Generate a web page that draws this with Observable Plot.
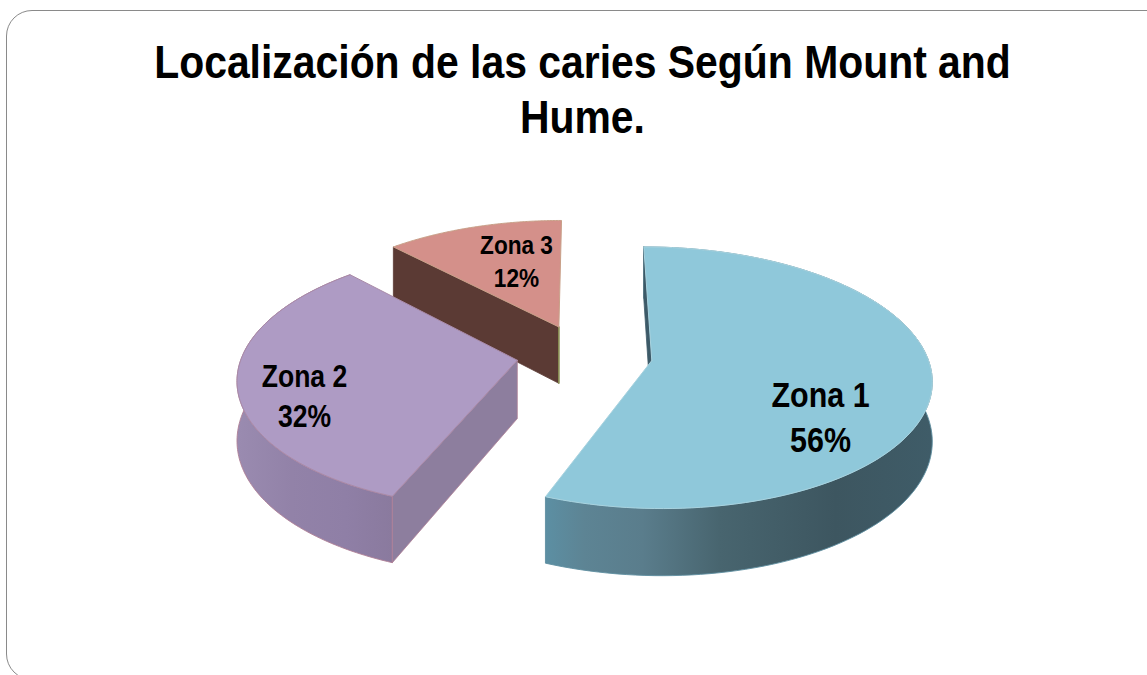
<!DOCTYPE html>
<html lang="es">
<head>
<meta charset="utf-8">
<title>Localización de las caries</title>
<script src="https://cdn.jsdelivr.net/npm/d3@7"></script>
<script src="https://cdn.jsdelivr.net/npm/@observablehq/plot@0.6"></script>
<style>
html,body{margin:0;padding:0;background:#fff;width:1147px;height:675px;overflow:hidden}
#card{position:absolute;left:6px;top:9.5px;width:1300px;height:670px;border:1.8px solid #8a8a8a;border-radius:26px;box-sizing:border-box}
#title{position:absolute;left:0;top:34px;width:1165px;text-align:center;font:bold 47px/55px "Liberation Sans",sans-serif;color:#000;transform:scaleX(0.87);transform-origin:582.5px 0}
#chart{position:absolute;left:0;top:0}
svg{overflow:hidden}
</style>
</head>
<body>
<div id="card"></div>
<div id="chart"></div>
<div id="title">Localización de las caries Según Mount and<br>Hume.</div>
<script>
// ---- data ----
const zonas = ["Zona 1", "Zona 2", "Zona 3"];
const valores = [56, 32, 12];
const etiquetas = ["Zona 1\n56%", "Zona 2\n32%", "Zona 3\n12%"];
const colorTapa = ["#8fc8da", "#ae9bc4", "#d4908a"];
const colorBordeTapa = ["#a9d3df", "#a98aa8", "#c8a088"];
const colorCorte = ["#3d5a68", "#8d7e9e", "#5b3a34"];

// ---- exploded 3-D pie geometry (perspective projection of a unit disc) ----
const W = 1147, H = 675;
const cx = 582, cy = 354, f = 275, g = 127, k = 0.13, depth = 58;
const explode = [0.255, 0.24, 0.24];
const total = d3.sum(valores);
function proj(X, Z, down = 0) {
  const s = 1 / (1 - k * Z);
  return {x: cx + f * X * s, y: cy + (g * Z + down) * s};
}
const tops = [], outer = [], cuts = [], edges = [];
let acum = 0;
valores.forEach((v, i) => {
  const t0 = acum / total * 2 * Math.PI;
  acum += v;
  const t1 = acum / total * 2 * Math.PI;
  const m = (t0 + t1) / 2;
  const ax = explode[i] * Math.sin(m), az = -explode[i] * Math.cos(m);
  const ring = (d) => d3.range(0, 121).map((j) => {
    const t = t0 + (t1 - t0) * j / 120;
    return proj(ax + Math.sin(t), az - Math.cos(t), d);
  });
  const apex = proj(ax, az), apexD = proj(ax, az, depth);
  const top = ring(0), low = ring(depth);
  const first = top[0], firstD = low[0];
  tops.push(...[apex, ...top, apex].map((p) => ({...p, id: i, z: zonas[i]})));
  outer.push(...[...top, ...low.slice().reverse(), top[0]].map((p) => ({...p, id: i})));
  // cut face at the slice's starting angle: the one that looks toward the viewer
  cuts.push(...[apex, first, firstD, apexD, apex].map((p) => ({...p, id: i})));
  edges.push({...apex, id: i}, {...apexD, id: i});
});
const byId = (rows, i) => rows.filter((r) => r.id === i);

const etiquetaPos = [
  {x: 820, y: 415, size: 35},
  {x: 304, y: 394, size: 30.5},
  {x: 516, y: 259, size: 26}
];
const anchoTexto = 0.87;

// gradient defs for the curved walls
const defs = () => {
  const ns = "http://www.w3.org/2000/svg";
  const d = document.createElementNS(ns, "defs");
  const mk = (id, stops) => {
    const lg = document.createElementNS(ns, "linearGradient");
    lg.setAttribute("id", id);
    stops.forEach(([o, c]) => {
      const s = document.createElementNS(ns, "stop");
      s.setAttribute("offset", o);
      s.setAttribute("stop-color", c);
      lg.appendChild(s);
    });
    d.appendChild(lg);
  };
  mk("paredAzul", [[0, "#5c8fa3"], [0.1, "#5d8494"], [0.25, "#5a7d8c"], [0.45, "#48656f"], [0.75, "#3d5660"], [1, "#3f5c68"]]);
  mk("paredLila", [[0, "#9a8bb0"], [0.35, "#9282a8"], [0.7, "#8f7fa6"], [1, "#8a7a9e"]]);
  return d;
};

const wallFill = ["url(#paredAzul)", "url(#paredLila)", null];
const wallStroke = ["#5f8fa0", "#b08096", "#5b3a34"];
const order = [2, 1, 0];
const marks = [defs];
order.forEach((i) => {
  if (wallFill[i]) marks.push(Plot.line(byId(outer, i), {x: "x", y: "y", fill: wallFill[i], stroke: wallStroke[i], strokeWidth: 0.9}));
  marks.push(Plot.line(byId(cuts, i), {x: "x", y: "y", fill: colorCorte[i], stroke: i === 1 ? wallStroke[i] : colorCorte[i], strokeWidth: 0.8}));
  if (i === 2) marks.push(Plot.line(byId(edges, i), {x: "x", y: "y", stroke: "#8f9a55", strokeWidth: 1.4}));
  marks.push(Plot.line(byId(tops, i), {x: "x", y: "y", fill: colorTapa[i], stroke: colorBordeTapa[i], strokeWidth: 1}));
});
etiquetas.forEach((t, i) => {
  marks.push(Plot.text([t], {
    x: () => etiquetaPos[i].x, y: () => etiquetaPos[i].y, text: (d) => d,
    fontSize: etiquetaPos[i].size, fontWeight: "bold",
    fontFamily: '"Liberation Sans",sans-serif',
    fill: "#000", lineHeight: 1.28
  }));
});

const chart = Plot.plot({
  width: W, height: H, margin: 0,
  style: {background: "transparent"},
  x: {domain: [0, W], range: [0, W], axis: null},
  y: {domain: [0, H], range: [0, H], axis: null},
  marks
});
// condense label glyphs horizontally, as in the reference
chart.querySelectorAll("text").forEach((el) => {
  const tr = el.getAttribute("transform") || "";
  el.setAttribute("transform", tr + ` scale(${anchoTexto},1)`);
});
document.getElementById("chart").appendChild(chart);
</script>
</body>
</html>
